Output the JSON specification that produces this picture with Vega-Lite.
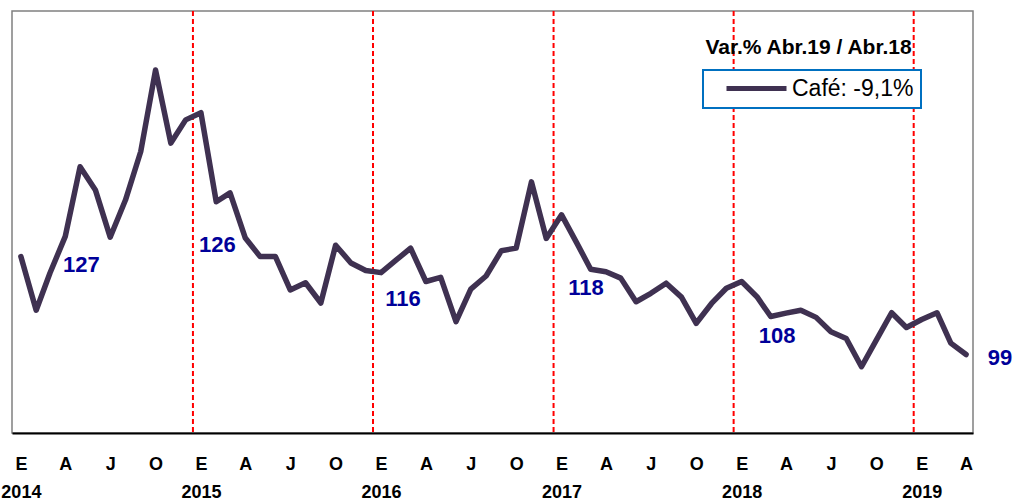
{
  "$schema": "https://vega.github.io/schema/vega-lite/v6.json",
  "width": 961,
  "height": 422,
  "autosize": {"type": "none"},
  "padding": {"left": 12, "top": 11, "right": 42, "bottom": 69},
  "background": "white",
  "config": {
    "view": {"stroke": "#808080", "strokeWidth": 1.5},
    "font": "Liberation Sans"
  },
  "title": {
    "text": "Var.% Abr.19 / Abr.18",
    "font": "Liberation Sans",
    "fontSize": 21,
    "fontWeight": "bold",
    "color": "black",
    "anchor": "middle",
    "frame": "group",
    "baseline": "alphabetic",
    "offset": 0,
    "dx": 316,
    "dy": 65
  },
  "data": {
    "values": [
      {"date": "2014-01", "value": 121.8}, {"date": "2014-02", "value": 109.1}, {"date": "2014-03", "value": 117.9}, {"date": "2014-04", "value": 126.6},
      {"date": "2014-05", "value": 143.1}, {"date": "2014-06", "value": 137.6}, {"date": "2014-07", "value": 126.4}, {"date": "2014-08", "value": 135.2},
      {"date": "2014-09", "value": 146.7}, {"date": "2014-10", "value": 166.0}, {"date": "2014-11", "value": 148.7}, {"date": "2014-12", "value": 154.2},
      {"date": "2015-01", "value": 155.9}, {"date": "2015-02", "value": 134.8}, {"date": "2015-03", "value": 136.9}, {"date": "2015-04", "value": 126.2},
      {"date": "2015-05", "value": 121.8}, {"date": "2015-06", "value": 121.8}, {"date": "2015-07", "value": 113.9}, {"date": "2015-08", "value": 115.6},
      {"date": "2015-09", "value": 110.8}, {"date": "2015-10", "value": 124.5}, {"date": "2015-11", "value": 120.3}, {"date": "2015-12", "value": 118.5},
      {"date": "2016-01", "value": 118.0}, {"date": "2016-02", "value": 121.0}, {"date": "2016-03", "value": 123.8}, {"date": "2016-04", "value": 115.9},
      {"date": "2016-05", "value": 116.9}, {"date": "2016-06", "value": 106.4}, {"date": "2016-07", "value": 114.1}, {"date": "2016-08", "value": 117.2},
      {"date": "2016-09", "value": 123.2}, {"date": "2016-10", "value": 123.8}, {"date": "2016-11", "value": 139.5}, {"date": "2016-12", "value": 126.1},
      {"date": "2017-01", "value": 131.7}, {"date": "2017-02", "value": 125.0}, {"date": "2017-03", "value": 118.8}, {"date": "2017-04", "value": 118.2},
      {"date": "2017-05", "value": 116.7}, {"date": "2017-06", "value": 111.1}, {"date": "2017-07", "value": 113.1}, {"date": "2017-08", "value": 115.5},
      {"date": "2017-09", "value": 112.2}, {"date": "2017-10", "value": 106.0}, {"date": "2017-11", "value": 110.7}, {"date": "2017-12", "value": 114.3},
      {"date": "2018-01", "value": 115.9}, {"date": "2018-02", "value": 112.3}, {"date": "2018-03", "value": 107.6}, {"date": "2018-04", "value": 108.4},
      {"date": "2018-05", "value": 109.1}, {"date": "2018-06", "value": 107.4}, {"date": "2018-07", "value": 104.0}, {"date": "2018-08", "value": 102.4},
      {"date": "2018-09", "value": 95.7}, {"date": "2018-10", "value": 102.0}, {"date": "2018-11", "value": 108.5}, {"date": "2018-12", "value": 105.0},
      {"date": "2019-01", "value": 106.9}, {"date": "2019-02", "value": 108.5}, {"date": "2019-03", "value": 101.3}, {"date": "2019-04", "value": 98.6}
    ],
    "format": {"parse": {"date": "date:'%Y-%m'"}}
  },
  "encoding": {
    "x": {
      "field": "date",
      "type": "temporal",
      "scale": {"domain": [{"year": 2013, "month": 12, "date": 14}, {"year": 2019, "month": 4, "date": 15}]},
      "axis": {
        "title": null,
        "tickCount": {"interval": "month", "step": 3},
        "labelExpr": "month(datum.value)==0 ? ['E', '' + year(datum.value)] : month(datum.value)==3 ? 'A' : month(datum.value)==6 ? 'J' : 'O'",
        "labelFont": "Liberation Sans",
        "labelFontSize": 18,
        "labelFontWeight": "bold",
        "labelColor": "black",
        "labelLineHeight": 28,
        "labelPadding": 22,
        "labelOverlap": false,
        "labelFlush": false,
        "ticks": false,
        "tickSize": 0,
        "grid": false,
        "domainColor": "black",
        "domainWidth": 2,
        "zindex": 1
      }
    },
    "y": {
      "field": "value",
      "type": "quantitative",
      "scale": {"domain": [80, 180], "nice": false, "zero": false},
      "axis": null
    }
  },
  "layer": [
    {
      "transform": [{"filter": "month(datum.date)==0 && year(datum.date)>=2015"}],
      "mark": {"type": "rule", "color": "#FF0000", "strokeWidth": 2, "strokeDash": [5, 3], "xOffset": -8},
      "encoding": {"y": {"value": 0}, "y2": {"value": 422}}
    },
    {
      "mark": {"type": "line", "strokeWidth": 5.5, "strokeJoin": "round", "strokeCap": "round"},
      "encoding": {
        "color": {
          "datum": "Café: -9,1%",
          "scale": {"range": ["#3F3151"]},
          "legend": {
            "title": null,
            "orient": "none",
            "legendX": 691,
            "legendY": 59,
            "padding": 7,
            "strokeColor": "#0070C0",
            "fillColor": "white",
            "symbolType": "M-6,0H6",
            "symbolSize": 100,
            "symbolStrokeWidth": 5,
            "symbolStrokeColor": "#333399",
            "symbolOffset": 35,
            "labelOffset": 24,
            "labelFont": "Liberation Sans",
            "labelFontSize": 23,
            "labelColor": "black",
            "encode": {"legend": {"update": {"strokeWidth": {"value": 2}}}}
          }
        }
      }
    },
    {
      "transform": [{"filter": "year(datum.date)==2014 && month(datum.date)==3"}],
      "mark": {"type": "text", "font": "Liberation Sans", "fontSize": 22, "fontWeight": "bold", "color": "#000099", "dx": 16, "dy": 29},
      "encoding": {"text": {"field": "value", "format": ".0f"}}
    },
    {
      "transform": [{"filter": "year(datum.date)==2015 && month(datum.date)==3"}],
      "mark": {"type": "text", "font": "Liberation Sans", "fontSize": 22, "fontWeight": "bold", "color": "#000099", "dx": -28, "dy": 7},
      "encoding": {"text": {"field": "value", "format": ".0f"}}
    },
    {
      "transform": [{"filter": "year(datum.date)==2016 && month(datum.date)==3"}],
      "mark": {"type": "text", "font": "Liberation Sans", "fontSize": 22, "fontWeight": "bold", "color": "#000099", "dx": -23, "dy": 17},
      "encoding": {"text": {"field": "value", "format": ".0f"}}
    },
    {
      "transform": [{"filter": "year(datum.date)==2017 && month(datum.date)==3"}],
      "mark": {"type": "text", "font": "Liberation Sans", "fontSize": 22, "fontWeight": "bold", "color": "#000099", "dx": -20, "dy": 16},
      "encoding": {"text": {"field": "value", "format": ".0f"}}
    },
    {
      "transform": [{"filter": "year(datum.date)==2018 && month(datum.date)==3"}],
      "mark": {"type": "text", "font": "Liberation Sans", "fontSize": 22, "fontWeight": "bold", "color": "#000099", "dx": -9, "dy": 23},
      "encoding": {"text": {"field": "value", "format": ".0f"}}
    },
    {
      "transform": [{"filter": "year(datum.date)==2019 && month(datum.date)==3"}],
      "mark": {"type": "text", "font": "Liberation Sans", "fontSize": 22, "fontWeight": "bold", "color": "#000099", "dx": 34, "dy": 3},
      "encoding": {"text": {"field": "value", "format": ".0f"}}
    }
  ]
}
